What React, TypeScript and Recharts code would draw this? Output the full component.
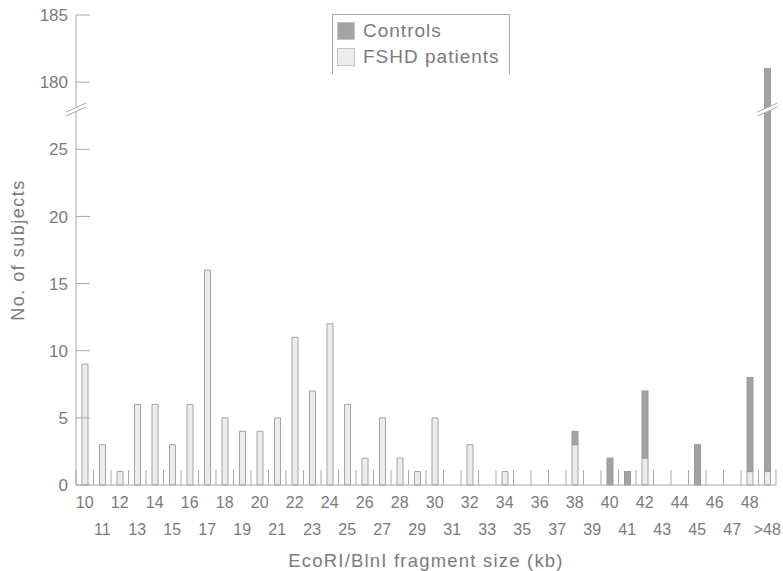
import { Bar, BarChart, Legend, XAxis, YAxis } from "recharts"

// fragment size classes (kb)
const sizes = [
  "10", "11", "12", "13", "14", "15", "16", "17", "18", "19",
  "20", "21", "22", "23", "24", "25", "26", "27", "28", "29",
  "30", "31", "32", "33", "34", "35", "36", "37", "38", "39",
  "40", "41", "42", "43", "44", "45", "46", "47", "48", ">48",
]

const patients = [
  9, 3, 1, 6, 6, 3, 6, 16, 5, 4,
  4, 5, 11, 7, 12, 6, 2, 5, 2, 1,
  5, 0, 3, 0, 1, 0, 0, 0, 3, 0,
  0, 0, 2, 0, 0, 0, 0, 0, 1, 1,
]

const controls = [
  0, 0, 0, 0, 0, 0, 0, 0, 0, 0,
  0, 0, 0, 0, 0, 0, 0, 0, 0, 0,
  0, 0, 0, 0, 0, 0, 0, 0, 1, 0,
  2, 1, 5, 0, 0, 3, 0, 0, 7, 180,
]

// broken axis: everything above BREAK_AT is drawn GAP lower
const BREAK_AT = 28
const GAP = 150
const yTicks = [0, 5, 10, 15, 20, 25, 28, 30, 35]

const shown = (v: number) => (v > BREAK_AT ? v - GAP : v)
const axisValue = (v: number) => (v > BREAK_AT ? v + GAP : v)

const data = sizes.map((size, i) => ({
  size,
  patients: patients[i],
  controls: shown(controls[i]),
  controlsReal: controls[i],
}))

const TEXT = "#7b7b7b"
const LINE = "#a9a9a9"
const FONT = "'Liberation Sans', Arial, sans-serif"

function BreakMark({ cx, cy }: { cx: number; cy: number }) {
  return (
    <g>
      <polygon
        points={`${cx - 10},${cy + 3} ${cx + 10},${cy - 6} ${cx + 10},${cy - 2} ${cx - 10},${cy + 7}`}
        fill="#fff"
      />
      <line x1={cx - 10} y1={cy + 3} x2={cx + 10} y2={cy - 6} stroke={LINE} />
      <line x1={cx - 10} y1={cy + 7} x2={cx + 10} y2={cy - 2} stroke={LINE} />
    </g>
  )
}

function YTick(props: any) {
  const { x, y, payload } = props
  if (payload.value === BREAK_AT) return <BreakMark cx={x} cy={y} />
  return (
    <g>
      <line x1={x} x2={x + 14} y1={y} y2={y} stroke={LINE} />
      <text
        x={x - 8}
        y={y}
        dy="0.36em"
        textAnchor="end"
        fill={TEXT}
        fontSize={17}
        fontFamily={FONT}
      >
        {axisValue(payload.value)}
      </text>
    </g>
  )
}

function XTick(props: any) {
  const { x, y, payload, index, width } = props
  const step = (typeof width === "number" && width > 100 ? width : 700) / sizes.length
  const edge = x - step / 2
  return (
    <g>
      <line x1={edge} x2={edge} y1={y} y2={y - 15} stroke={LINE} />
      {index === sizes.length - 1 && (
        <line x1={x + step / 2} x2={x + step / 2} y1={y} y2={y - 15} stroke={LINE} />
      )}
      <text
        x={x}
        y={y + (index % 2 ? 44 : 17)}
        dy="0.36em"
        textAnchor="middle"
        fill={TEXT}
        fontSize={16}
        fontFamily={FONT}
      >
        {payload.value}
      </text>
    </g>
  )
}

function ControlsShape(props: any) {
  const { x, y, width, height, payload, fill, stroke } = props
  if (!height || height <= 0) return null
  const body = <rect x={x} y={y} width={width} height={height} fill={fill} stroke={stroke} />
  if (payload.controlsReal <= BREAK_AT) return body
  const perUnit = height / payload.controls
  const top = payload.patients + payload.controls
  const by = y + (top - BREAK_AT) * perUnit
  return (
    <g>
      {body}
      <BreakMark cx={x + width / 2} cy={by} />
    </g>
  )
}

function LegendBox() {
  const rows = [
    { label: "Controls", fill: "#a3a3a3" },
    { label: "FSHD patients", fill: "#ececec" },
  ]
  return (
    <div
      style={{
        width: 178,
        height: 60,
        boxSizing: "border-box",
        border: `1px solid ${LINE}`,
        borderBottom: "none",
        paddingTop: 3,
        fontFamily: FONT,
        whiteSpace: "nowrap",
      }}
    >
      {rows.map((r) => (
        <div key={r.label} style={{ display: "flex", alignItems: "center", height: 26 }}>
          <span
            style={{
              display: "inline-block",
              flex: "none",
              width: 18,
              height: 18,
              marginLeft: 4,
              marginRight: 8,
              background: r.fill,
              border: "1px solid #c4c4c4",
              boxSizing: "border-box",
            }}
          />
          <span style={{ fontSize: 19, letterSpacing: 1, color: TEXT }}>{r.label}</span>
        </div>
      ))}
    </div>
  )
}

export default function App() {
  return (
    <div>
      <style>{"body{margin:0}"}</style>
      <BarChart
        width={783}
        height={571}
        data={data}
        margin={{ top: 15, right: 7, bottom: 26, left: 16 }}
      >
        <XAxis
          dataKey="size"
          interval={0}
          height={60}
          tickSize={0}
          tickMargin={0}
          tickLine={false}
          axisLine={{ stroke: LINE }}
          tick={<XTick />}
          label={(p: any) => (
            <text
              x={p.viewBox.x + p.viewBox.width / 2}
              y={p.viewBox.y + 75}
              dy="0.36em"
              textAnchor="middle"
              fill={TEXT}
              fontSize={18.5}
              letterSpacing={1.2}
              fontFamily={FONT}
            >
              EcoRI/BlnI fragment size (kb)
            </text>
          )}
        />
        <YAxis
          type="number"
          domain={[0, 35]}
          ticks={yTicks}
          interval={0}
          width={60}
          tickSize={0}
          tickMargin={0}
          tickLine={false}
          axisLine={{ stroke: LINE }}
          tick={<YTick />}
          label={() => (
            <text
              x={17.5}
              y={250}
              dy="0.36em"
              textAnchor="middle"
              transform="rotate(-90 17.5 250)"
              fill={TEXT}
              fontSize={18}
              letterSpacing={1.5}
              fontFamily={FONT}
            >
              No. of subjects
            </text>
          )}
        />
        <Legend
          layout="horizontal"
          verticalAlign="middle"
          align="center"
          wrapperStyle={{ top: 14, left: 332, width: 178 }}
          content={() => <LegendBox />}
        />
        <Bar
          dataKey="patients"
          stackId="a"
          barSize={6}
          fill="#ececec"
          stroke="#a4a4a4"
          isAnimationActive={false}
        />
        <Bar
          dataKey="controls"
          stackId="a"
          barSize={6}
          fill="#a3a3a3"
          stroke="#999"
          shape={<ControlsShape />}
          isAnimationActive={false}
        />
      </BarChart>
    </div>
  )
}
